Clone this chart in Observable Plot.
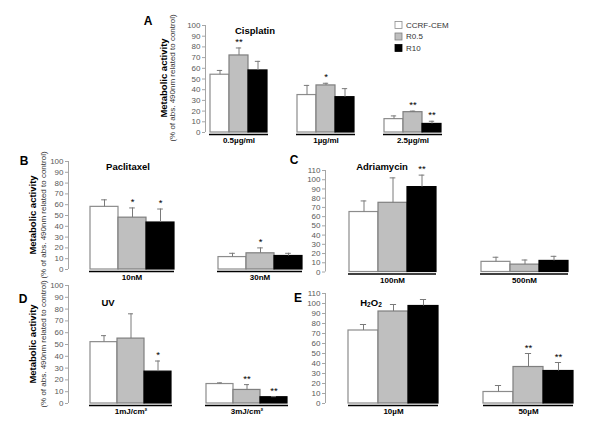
<!DOCTYPE html>
<html><head><meta charset="utf-8">
<script src="https://cdn.jsdelivr.net/npm/d3@7"></script>
<script src="https://cdn.jsdelivr.net/npm/@observablehq/plot@0.6"></script>
<style>
body{margin:0;background:#fff}
#chart{position:relative;width:600px;height:422px;overflow:hidden;font-family:"Liberation Sans",Arial,sans-serif;background:#fff}
#chart svg{position:absolute;left:0;top:0}
</style></head><body><div id="chart"></div>
<script>
const FONT = '"Liberation Sans", Arial, sans-serif';
const series = ["CCRF-CEM", "R0.5", "R10"];
const seriesFill = ["#ffffff", "#bfbfbf", "#000000"];
const seriesStroke = ["#8c8c8c", "#7f7f7f", "#000000"];

const cisplatinDoses = ["0.5µg/ml", "1µg/ml", "2.5µg/ml"];
const cisplatinMean = [54, 72, 58, 35, 44, 33, 12.5, 19, 8];
const cisplatinErr = [4, 7, 8.5, 9, 2, 8, 3, 1, 2.5];
const cisplatinSig = ["", "**", "", "", "*", "", "", "**", "**"];

const paclitaxelDoses = ["10nM", "30nM"];
const paclitaxelMean = [58, 48, 43.5, 11.5, 15, 12.5];
const paclitaxelErr = [6.5, 9, 12.5, 3.5, 5, 2.5];
const paclitaxelSig = ["", "*", "*", "", "*", ""];

const adriamycinDoses = ["100nM", "500nM"];
const adriamycinMean = [65, 75, 92, 11, 8, 12];
const adriamycinErr = [12, 27, 13, 5, 5, 5];
const adriamycinSig = ["", "", "**", "", "", ""];

const uvDoses = ["1mJ/cm²", "3mJ/cm²"];
const uvMean = [52, 55, 27, 16.5, 11.5, 5.3];
const uvErr = [5.5, 21, 9, 1, 4.5, 0.5];
const uvSig = ["", "", "*", "", "**", "**"];

const h2o2Doses = ["10µM", "50µM"];
const h2o2Mean = [73, 92, 97.5, 11.5, 36.5, 32.5];
const h2o2Err = [6, 7, 6.5, 6.5, 13.5, 8.5];
const h2o2Sig = ["", "", "", "", "**", "**"];

function rows(doses, mean, err, sig) {
  return mean.map((m, i) => ({dose: doses[Math.floor(i / 3)], s: series[i % 3], mean: m, top: m + err[i], sig: sig[i]}));
}

const chart = document.getElementById("chart");

function panel(cfg) {
  const {doses, data, ymax, axisX, y0, yTop, bandStart, step, bandW} = cfg;
  const n = doses.length;
  const R = step * n - (step - bandW);
  const pi = (step - bandW) / step;
  const bw = bandW / 3;
  const cap = Math.max(0, bw / 2 - 3);
  const style = {background: "transparent", overflow: "visible", fontFamily: FONT};
  const axis = Plot.plot({
    width: 600, height: 422,
    marginLeft: axisX, marginRight: 600 - axisX - 1, marginTop: yTop, marginBottom: 422 - y0,
    style,
    x: {domain: [0, 1], axis: null},
    y: {domain: [0, ymax], axis: null},
    marks: [
      Plot.ruleX([0], {stroke: "#a6a6a6", strokeWidth: 1}),
      Plot.axisY({ticks: d3.range(0, ymax + 1, 10), tickSize: 3, tickPadding: 2, fontSize: 8, color: "#595959", stroke: "#a6a6a6", label: null})
    ]
  });
  const stars = data.filter(d => d.sig !== "");
  const bars = Plot.plot({
    width: 600, height: 422,
    marginLeft: bandStart, marginRight: 600 - bandStart - R, marginTop: yTop, marginBottom: 422 - y0,
    style,
    fx: {domain: doses, paddingInner: pi, paddingOuter: 0, label: null},
    x: {domain: series, padding: 0, axis: null},
    y: {domain: [0, ymax], axis: null},
    marks: [
      ...series.map((s, k) => Plot.barY(data.filter(d => d.s === s), {fx: "dose", x: "s", y: "mean", fill: seriesFill[k], stroke: seriesStroke[k], strokeWidth: 1.2})),
      Plot.ruleX(data, {fx: "dose", x: "s", y1: "mean", y2: "top", stroke: "#7a7a7a", strokeWidth: 1}),
      Plot.tickY(data, {fx: "dose", x: "s", y: "top", stroke: "#7a7a7a", strokeWidth: 1, insetLeft: cap, insetRight: cap}),
      Plot.text(stars, {fx: "dose", x: "s", y: "top", text: "sig", dy: -3, lineAnchor: "bottom", fontSize: 9.5, fill: "#000"}),
      Plot.ruleY([0], {dy: 2, stroke: "#000", strokeWidth: 1.5}),
      Plot.axisFx({anchor: "bottom", tickSize: 0, tickPadding: 5, fontSize: 8, fontWeight: "bold", color: "#000", label: null})
    ]
  });
  chart.appendChild(axis);
  chart.appendChild(bars);
}

panel({doses: cisplatinDoses, data: rows(cisplatinDoses, cisplatinMean, cisplatinErr, cisplatinSig), ymax: 100,
  axisX: 205, y0: 132, yTop: 25, bandStart: 208, step: 87.5, bandW: 59});
panel({doses: paclitaxelDoses, data: rows(paclitaxelDoses, paclitaxelMean, paclitaxelErr, paclitaxelSig), ymax: 100,
  axisX: 68, y0: 269, yTop: 161, bandStart: 89, step: 128, bandW: 85});
panel({doses: adriamycinDoses, data: rows(adriamycinDoses, adriamycinMean, adriamycinErr, adriamycinSig), ymax: 110,
  axisX: 325, y0: 271.5, yTop: 170, bandStart: 348, step: 132, bandW: 88});
panel({doses: uvDoses, data: rows(uvDoses, uvMean, uvErr, uvSig), ymax: 100,
  axisX: 68, y0: 403, yTop: 285, bandStart: 88, step: 117, bandW: 84});
panel({doses: h2o2Doses, data: rows(h2o2Doses, h2o2Mean, h2o2Err, h2o2Sig), ymax: 110,
  axisX: 325, y0: 403, yTop: 293, bandStart: 348, step: 135, bandW: 89.5});

// annotations
const ov = d3.select(chart).append("svg").attr("width", 600).attr("height", 422)
  .style("font-family", FONT);
const letters = [["A", 148, 21], ["B", 24, 161], ["C", 294, 160], ["D", 23, 299], ["E", 298, 298]];
ov.selectAll("text.letter").data(letters).join("text").attr("class", "letter")
  .attr("x", d => d[1]).attr("y", d => d[2]).attr("text-anchor", "middle").attr("dominant-baseline", "central")
  .attr("font-size", 12).attr("font-weight", "bold").text(d => d[0]);
const titles = [["Cisplatin", 255, 30], ["Paclitaxel", 128, 166], ["Adriamycin", 382, 166], ["UV", 108, 302]];
ov.selectAll("text.title").data(titles).join("text").attr("class", "title")
  .attr("x", d => d[1]).attr("y", d => d[2]).attr("text-anchor", "middle").attr("dominant-baseline", "central")
  .attr("font-size", 9.5).attr("font-weight", "bold").text(d => d[0]);
const h = ov.append("text").attr("x", 371).attr("y", 302).attr("text-anchor", "middle").attr("dominant-baseline", "central")
  .attr("font-size", 9.5).attr("font-weight", "bold");
h.append("tspan").text("H");
h.append("tspan").attr("font-size", 6.5).attr("dy", 2).text("2");
h.append("tspan").attr("dy", -2).text("O");
h.append("tspan").attr("font-size", 6.5).attr("dy", 2).text("2");

const ytitles = [[163, 172, 78], [32, 43, 215], [32, 43, 344]];
ytitles.forEach(([xb, xp, yc]) => {
  ov.append("text").attr("transform", `translate(${xb},${yc}) rotate(-90)`).attr("text-anchor", "middle")
    .attr("dominant-baseline", "central").attr("font-size", 9.5).attr("font-weight", "bold").text("Metabolic activity");
  ov.append("text").attr("transform", `translate(${xp},${yc}) rotate(-90)`).attr("text-anchor", "middle")
    .attr("dominant-baseline", "central").attr("font-size", 8).attr("fill", "#333").text("(% of abs. 490nm related to control)");
});

// legend
const lg = ov.append("g");
series.forEach((s, k) => {
  const y = 25 + k * 11.5;
  lg.append("rect").attr("x", 395).attr("y", y - 3.5).attr("width", 7).attr("height", 7)
    .attr("fill", seriesFill[k]).attr("stroke", seriesStroke[k]).attr("stroke-width", 0.8);
  lg.append("text").attr("x", 406).attr("y", y).attr("dominant-baseline", "central").attr("font-size", 8).attr("fill", "#333").text(s);
});
</script></body></html>
